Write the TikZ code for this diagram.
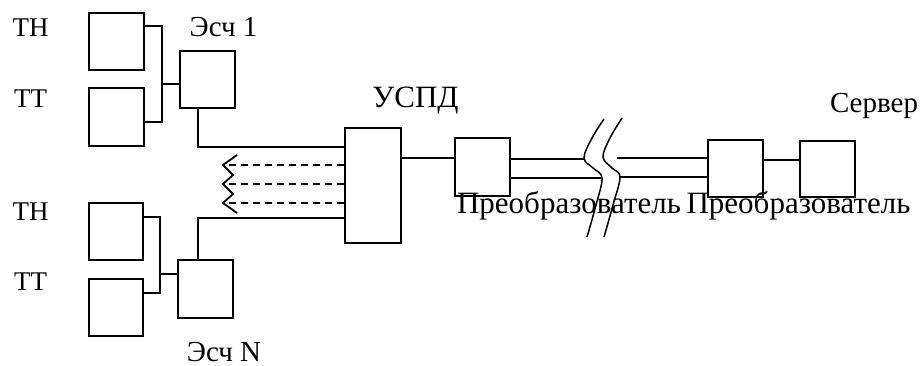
\documentclass[tikz,border=0pt]{standalone}
\usepackage{fontspec}
\setmainfont{Liberation Serif}
\usetikzlibrary{arrows.meta}
\begin{document}
\begin{tikzpicture}[x=1pt,y=-1pt,
  blk/.style={draw, fill=white, line width=1.4pt, inner sep=0pt, minimum width=55pt, minimum height=57pt},
  wire/.style={line width=1.8pt},
  dwire/.style={line width=1.6pt, dash pattern=on 7pt off 5pt},
  lbl/.style={font=\fontsize{29}{31}\selectfont, inner sep=0pt, anchor=base},
  lbls/.style={lbl, font=\fontsize{27}{29}\selectfont},
  lblb/.style={lbl, font=\fontsize{31}{33}\selectfont}]
\useasboundingbox[fill=white] (0,0) rectangle (923,366);
% boxes
\node[blk] (th1) at (116.5,41.5) {};
\node[blk, minimum height=58pt] (tt1) at (116.5,117) {};
\node[blk] (esc1) at (207.5,79.5) {};
\node[blk, minimum width=54pt] (th2) at (116,231.5) {};
\node[blk, minimum width=54pt] (tt2) at (116,307.5) {};
\node[blk, minimum height=58pt] (escN) at (205.5,289) {};
\node[blk, minimum width=56pt, minimum height=115pt] (uspd) at (373,185.5) {};
\node[blk, minimum height=58pt] (pr1) at (482.5,167) {};
\node[blk] (pr2) at (735.5,168.5) {};
\node[blk, minimum height=56pt] (srv) at (827.5,169) {};
% labels
\node[lbls] (l1) at (30.5,37) {ТН};
\node[lbls] (l2) at (30.5,108) {ТТ};
\node[lbls] (l3) at (30.5,220) {ТН};
\node[lbls] (l4) at (30.5,290) {ТТ};
\node[lbl] (le1) at (223.5,37) {Эсч 1};
\node[lbl] (leN) at (224,361) {Эсч N};
\node[lblb] (lu) at (415.5,108) {УСПД};
\node[lbl] (ls) at (874,113) {Сервер};
\node[lblb] (lp1) at (569,213) {Преобразователь};
\node[lblb] (lp2) at (798.5,213) {Преобразователь};
% junctions
\coordinate (j1) at (162,84);
\coordinate (j2) at (160,274);
% group 1
\draw[wire] (th1.east |- 0,26) -- (162,26) -- (162,122) -- (tt1.east |- 0,122);
\draw[wire] (j1) -- (esc1.west |- j1);
\draw[wire] (esc1.south -| 198,0) -- (198,147) -- (uspd.west |- 0,147);
% group N
\draw[wire] (th2.east |- 0,217) -- (160,217) -- (160,293) -- (tt2.east |- 0,293);
\draw[wire] (j2) -- (escN.west |- j2);
\draw[wire] (escN.north -| 198,0) -- (198,218) -- (uspd.west |- 0,218);
% dashed links
\coordinate (d1) at (223,165);
\coordinate (d2) at (223,184);
\coordinate (d3) at (223,203);
\draw[dwire] (uspd.west |- d1) -- (d1);
\draw[dwire] (uspd.west |- d2) -- (d2);
\draw[dwire] (uspd.west |- d3) -- (d3);
\draw[line width=1.8pt, line join=miter] (237,155) -- (d1) -- (233,175) -- (d2) -- (233,194) -- (d3) -- (237,213);
% right chain
\draw[wire] (uspd.east |- 0,158) -- (pr1.west |- 0,158);
\coordinate (b1) at (584,159);
\coordinate (b2) at (602,178);
\coordinate (b3) at (617,158);
\coordinate (b4) at (620,177);
\draw[wire] (pr1.east |- b1) -- (b1);
\draw[wire] (pr1.east |- b2) -- (b2);
\draw[wire] (b3) -- (pr2.west |- b3);
\draw[wire] (b4) -- (pr2.west |- b4);
\draw[wire] (pr2.east |- 0,160) -- (srv.west |- 0,160);
% break marks
\draw[line width=1.5pt] plot[smooth, tension=0.6] coordinates {(604,119) (592,138) (584,158) (593,168) (602,178) (596,205) (587,237)};
\draw[line width=1.5pt] plot[smooth, tension=0.6] coordinates {(622,118) (610,138) (603,157) (612,168) (620,177) (613,205) (604,237)};
\end{tikzpicture}
\end{document}
